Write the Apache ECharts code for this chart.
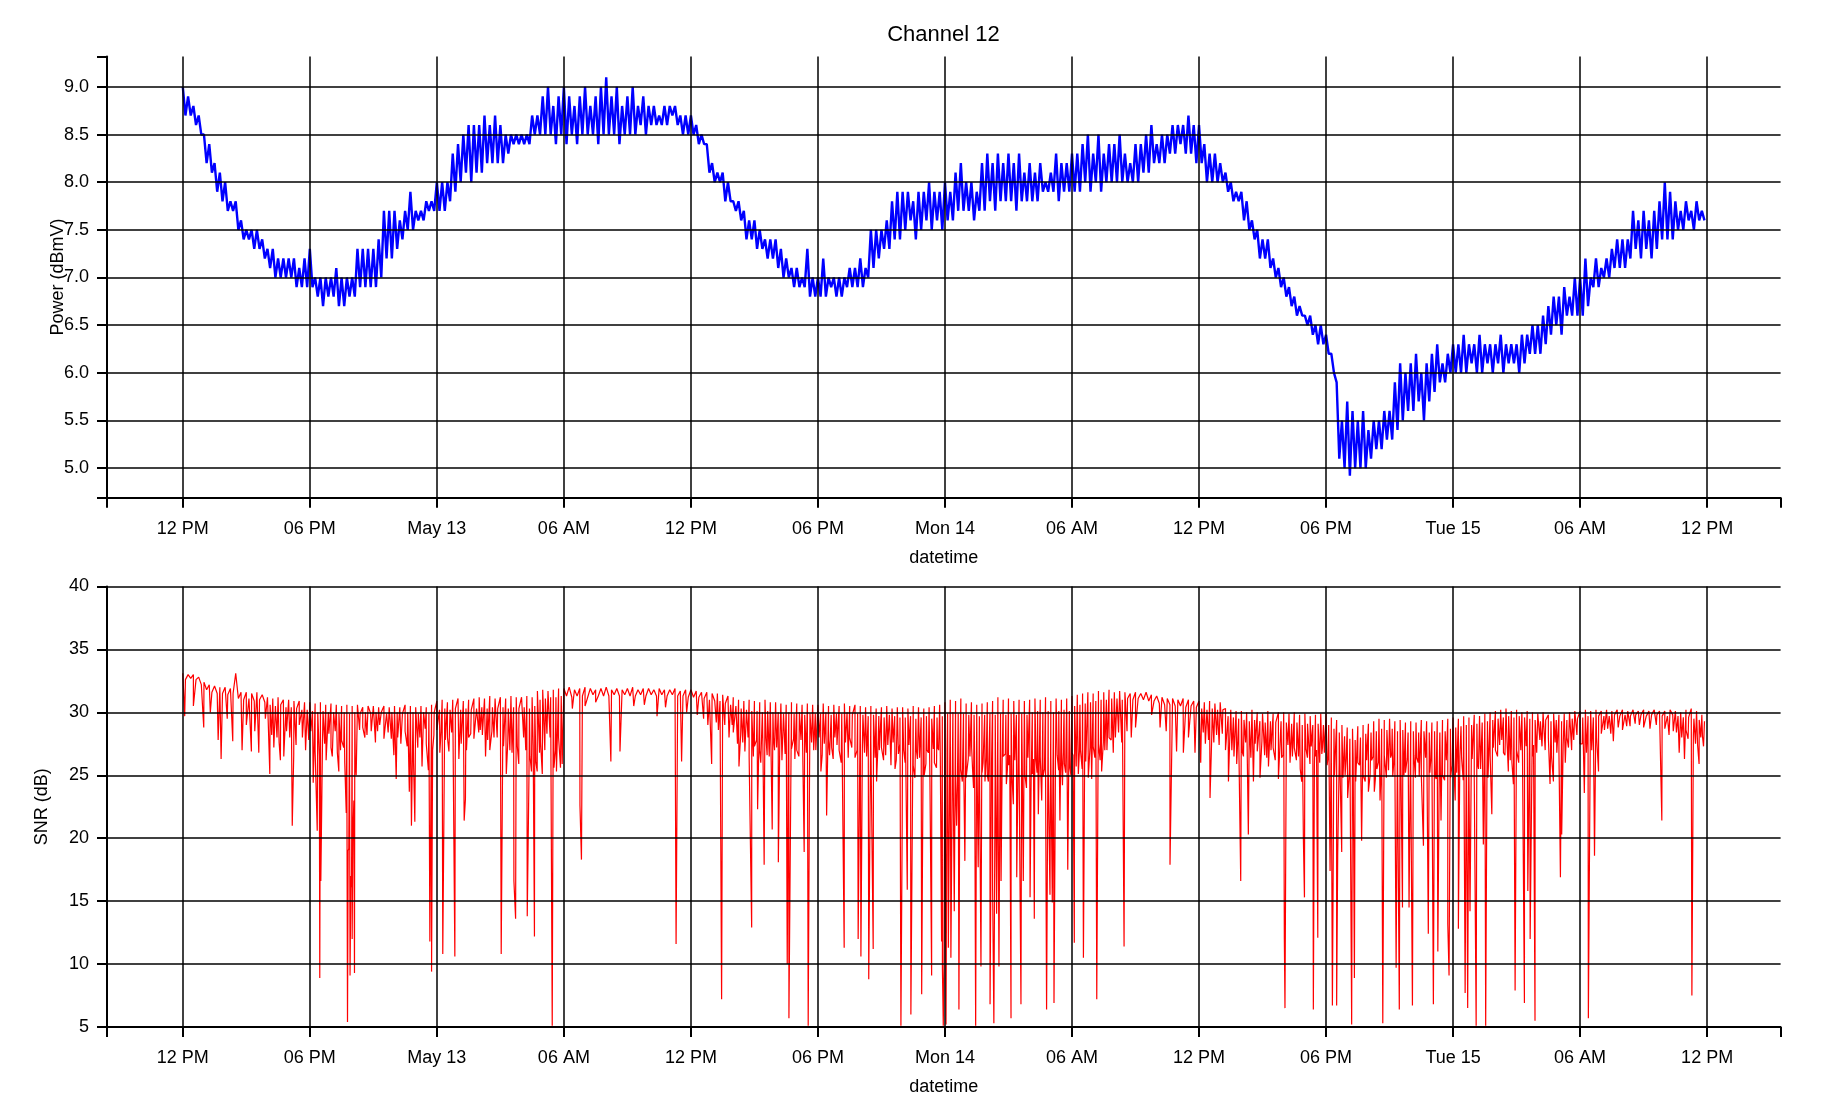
<!DOCTYPE html>
<html><head><meta charset="utf-8">
<script src="https://cdn.jsdelivr.net/npm/echarts@6/dist/echarts.min.js"></script>
<style>html,body{margin:0;padding:0;background:#fff}#c{width:1830px;height:1116px}</style>
</head><body><div id="c"></div>
<script>
// time in hours since 12 PM, May 12
const BIN_HOURS = 0.25;
const xMin = -3.58, xMax = 75.47;
const tickHours = [0, 6, 12, 18, 24, 30, 36, 42, 48, 54, 60, 66, 72];
const tickLabels = ['12 PM', '06 PM', 'May 13', '06 AM', '12 PM', '06 PM', 'Mon 14', '06 AM', '12 PM', '06 PM', 'Tue 15', '06 AM', '12 PM'];
const powerMin = 4.69, powerMax = 9.32;
const powerTicks = [5.0, 5.5, 6.0, 6.5, 7.0, 7.5, 8.0, 8.5, 9.0];
const snrTicks = [5, 10, 15, 20, 25, 30, 35, 40];

// Power (dBmV): upper / lower value in each 15-minute bin
const powerHi = [
  9.0, 8.9, 8.8, 8.7, 8.5, 8.4, 8.2, 8.1,
  8.0, 7.8, 7.8, 7.6, 7.5, 7.5, 7.5, 7.4,
  7.3, 7.3, 7.2, 7.2, 7.2, 7.2, 7.1, 7.2,
  7.3, 7.0, 7.0, 7.0, 7.0, 7.1, 7.0, 7.0,
  7.0, 7.3, 7.3, 7.3, 7.3, 7.4, 7.7, 7.7,
  7.7, 7.6, 7.7, 7.9, 7.7, 7.7, 7.8, 7.8,
  8.0, 8.0, 8.0, 8.3, 8.4, 8.5, 8.6, 8.6,
  8.6, 8.7, 8.6, 8.7, 8.6, 8.5, 8.5, 8.5,
  8.5, 8.5, 8.7, 8.7, 8.9, 9.0, 8.8, 8.9,
  9.0, 8.9, 8.8, 8.9, 9.0, 8.8, 8.9, 9.0,
  9.1, 8.9, 9.0, 8.8, 8.9, 9.0, 8.8, 8.9,
  8.8, 8.8, 8.7, 8.8, 8.8, 8.8, 8.7, 8.7,
  8.7, 8.6, 8.5, 8.4, 8.2, 8.1, 8.1, 8.0,
  7.8, 7.8, 7.7, 7.6, 7.6, 7.5, 7.4, 7.4,
  7.4, 7.3, 7.2, 7.1, 7.1, 7.0, 7.3, 7.0,
  7.0, 7.2, 7.0, 7.0, 7.0, 7.0, 7.1, 7.1,
  7.2, 7.1, 7.5, 7.5, 7.5, 7.6, 7.8, 7.9,
  7.9, 7.9, 7.8, 7.9, 7.9, 8.0, 7.9, 7.9,
  8.0, 7.9, 8.1, 8.2, 8.0, 8.0, 7.9, 8.2,
  8.3, 8.2, 8.3, 8.2, 8.3, 8.2, 8.3, 8.1,
  8.2, 8.1, 8.2, 8.0, 8.1, 8.3, 8.2, 8.2,
  8.3, 8.3, 8.4, 8.5, 8.3, 8.5, 8.3, 8.4,
  8.4, 8.5, 8.3, 8.2, 8.4, 8.4, 8.5, 8.6,
  8.4, 8.5, 8.5, 8.6, 8.6, 8.6, 8.7, 8.6,
  8.6, 8.4, 8.3, 8.3, 8.2, 8.1, 8.0, 7.9,
  7.9, 7.8, 7.6, 7.5, 7.4, 7.4, 7.2, 7.1,
  7.0, 6.9, 6.8, 6.7, 6.6, 6.6, 6.5, 6.5,
  6.4, 6.2, 5.9, 5.5, 5.7, 5.6, 5.5, 5.6,
  5.4, 5.5, 5.5, 5.6, 5.6, 5.9, 6.1, 6.0,
  6.1, 6.2, 6.0, 6.1, 6.2, 6.3, 6.1, 6.2,
  6.3, 6.3, 6.4, 6.3, 6.3, 6.4, 6.3, 6.3,
  6.3, 6.4, 6.3, 6.3, 6.3, 6.4, 6.4, 6.5,
  6.5, 6.6, 6.7, 6.8, 6.8, 6.9, 6.8, 7.0,
  7.0, 7.2, 7.0, 7.2, 7.1, 7.2, 7.3, 7.4,
  7.4, 7.4, 7.7, 7.6, 7.7, 7.6, 7.7, 7.8,
  8.0, 7.9, 7.8, 7.7, 7.8, 7.7, 7.8, 7.7
];
const powerLo = [
  8.7, 8.7, 8.6, 8.5, 8.2, 8.1, 7.9, 7.8,
  7.7, 7.7, 7.5, 7.4, 7.4, 7.3, 7.3, 7.2,
  7.1, 7.0, 7.0, 7.0, 7.0, 6.9, 6.9, 6.9,
  6.9, 6.8, 6.7, 6.8, 6.8, 6.7, 6.7, 6.8,
  6.8, 6.9, 6.9, 6.9, 6.9, 7.0, 7.2, 7.2,
  7.3, 7.4, 7.5, 7.5, 7.6, 7.6, 7.7, 7.7,
  7.7, 7.7, 7.8, 7.9, 8.0, 8.1, 8.0, 8.1,
  8.1, 8.2, 8.2, 8.2, 8.2, 8.3, 8.4, 8.4,
  8.4, 8.4, 8.5, 8.5, 8.5, 8.5, 8.4, 8.5,
  8.4, 8.5, 8.4, 8.5, 8.5, 8.5, 8.4, 8.5,
  8.5, 8.5, 8.4, 8.5, 8.5, 8.5, 8.6, 8.5,
  8.6, 8.6, 8.6, 8.6, 8.7, 8.6, 8.5, 8.5,
  8.5, 8.4, 8.4, 8.1, 8.0, 8.0, 7.8, 7.8,
  7.7, 7.6, 7.4, 7.4, 7.3, 7.3, 7.2, 7.2,
  7.1, 7.0, 7.0, 6.9, 6.9, 6.9, 6.8, 6.8,
  6.8, 6.8, 6.9, 6.8, 6.8, 6.9, 6.9, 6.9,
  6.9, 7.0, 7.1, 7.2, 7.3, 7.3, 7.4, 7.4,
  7.5, 7.6, 7.4, 7.5, 7.6, 7.5, 7.6, 7.5,
  7.6, 7.6, 7.7, 7.7, 7.7, 7.6, 7.7, 7.7,
  7.8, 7.7, 7.8, 7.8, 7.8, 7.7, 7.8, 7.8,
  7.8, 7.8, 7.9, 7.9, 7.9, 7.8, 7.9, 7.9,
  7.9, 7.9, 8.0, 7.9, 8.0, 7.9, 8.0, 8.0,
  8.0, 8.0, 8.0, 8.0, 8.0, 8.1, 8.1, 8.2,
  8.2, 8.2, 8.3, 8.3, 8.4, 8.3, 8.3, 8.2,
  8.2, 8.0, 8.0, 8.0, 8.0, 7.9, 7.8, 7.8,
  7.6, 7.5, 7.4, 7.2, 7.2, 7.1, 7.0, 6.9,
  6.8, 6.7, 6.6, 6.6, 6.5, 6.4, 6.3, 6.3,
  6.2, 6.0, 5.1, 5.0, 4.92, 5.0, 5.0, 5.0,
  5.1, 5.2, 5.2, 5.3, 5.3, 5.4, 5.5, 5.6,
  5.6, 5.7, 5.5, 5.7, 5.8, 5.9, 5.9, 6.0,
  6.0, 6.0, 6.0, 6.1, 6.0, 6.0, 6.1, 6.0,
  6.1, 6.0, 6.1, 6.1, 6.0, 6.1, 6.2, 6.2,
  6.2, 6.3, 6.4, 6.5, 6.4, 6.6, 6.6, 6.6,
  6.6, 6.7, 6.9, 6.9, 7.0, 7.0, 7.1, 7.1,
  7.1, 7.2, 7.3, 7.2, 7.3, 7.2, 7.3, 7.4,
  7.4, 7.4, 7.5, 7.5, 7.6, 7.5, 7.6, 7.6
];

// SNR (dB): upper / lower edge of the baseline band in each 15-minute bin
const snrHi = [
  33.1, 33.0, 33.0, 32.8, 32.4, 32.2, 32.1, 32.0,
  32.0, 31.9, 33.1, 31.6, 31.6, 31.5, 31.6, 31.4,
  31.2, 31.1, 31.2, 31.0, 31.0, 30.9, 30.9, 30.8,
  30.8, 30.7, 30.8, 30.6, 30.7, 30.6, 30.5, 30.6,
  30.5, 30.6, 30.4, 30.5, 30.5, 30.4, 30.5, 30.4,
  30.5, 30.4, 30.6, 30.5, 30.4, 30.5, 30.4, 30.6,
  30.9, 31.0, 30.8, 31.0, 31.1, 30.9, 31.0, 31.1,
  31.2, 31.1, 31.3, 31.1, 31.2, 31.1, 31.3, 31.2,
  31.2, 31.3, 31.2, 31.7, 31.8, 31.7, 31.8, 31.9,
  31.9, 32.0, 31.8, 31.9, 32.0, 31.9, 31.8, 31.9,
  32.0, 31.8, 31.9, 31.8, 31.9, 32.0, 31.8, 31.9,
  31.9, 31.8, 31.9, 31.8, 31.8, 31.9, 31.7, 31.8,
  31.8, 31.7, 31.6, 31.6, 31.5, 31.5, 31.4, 31.3,
  31.2, 31.0, 30.9, 31.0, 30.9, 30.8, 31.0, 30.8,
  30.8, 30.7, 30.6, 30.8, 30.7, 30.6, 30.7, 30.6,
  30.6, 30.7, 30.5, 30.6, 30.5, 30.7, 30.5, 30.6,
  30.5, 30.4, 30.5, 30.3, 30.4, 30.5, 30.3, 30.4,
  30.4, 30.3, 30.5, 30.4, 30.3, 30.4, 30.5, 30.6,
  30.8, 31.0, 30.9, 31.1, 30.7, 30.8, 30.6, 30.7,
  30.8, 30.9, 31.2, 31.0, 31.1, 30.9, 31.0, 30.9,
  31.0, 31.1, 31.0, 31.2, 30.9, 31.1, 31.0, 31.1,
  31.3, 31.4, 31.5, 31.6, 31.5, 31.7, 31.6, 31.8,
  31.6, 31.7, 31.6, 31.5, 31.6, 31.5, 31.6, 31.4,
  31.3, 31.2, 31.1, 31.1, 31.0, 31.1, 31.0, 30.9,
  30.9, 30.8, 30.9, 30.7, 30.8, 30.3, 30.2, 30.1,
  30.1, 30.0, 30.2, 30.0, 29.9, 30.1, 29.9, 30.0,
  30.0, 29.9, 30.0, 29.8, 29.9, 29.7, 29.8, 29.9,
  29.9, 29.6, 29.4, 29.0, 28.8, 28.7, 28.9, 29.0,
  29.1, 29.3, 29.5, 29.4, 29.5, 29.3, 29.4, 29.2,
  29.3, 29.2, 29.4, 29.3, 29.2, 29.3, 29.4, 29.5,
  29.6, 29.5, 29.7, 29.6, 29.8, 29.7, 29.9, 30.0,
  30.1, 30.2, 30.3, 30.1, 30.2, 30.0, 30.1, 30.0,
  29.9, 30.0, 29.8, 29.9, 29.8, 29.9, 30.0, 30.1,
  30.1, 30.2, 30.1, 30.2, 30.1, 30.2, 30.1, 30.2,
  30.2, 30.1, 30.2, 30.1, 30.2, 30.1, 30.2, 30.1,
  30.1, 30.2, 30.1, 30.0, 30.2, 30.3, 30.1, 29.8
];
const snrLo = [
  32.6, 32.7, 32.6, 32.2, 31.8, 31.6, 31.5, 31.5,
  31.4, 31.5, 31.1, 31.0, 31.1, 30.9, 31.0, 30.8,
  30.6, 30.5, 30.6, 30.4, 30.4, 30.3, 30.2, 30.2,
  30.1, 30.0, 30.1, 30.0, 30.0, 29.9, 30.0, 29.9,
  30.0, 29.9, 30.0, 29.9, 30.0, 30.0, 29.9, 30.0,
  30.0, 29.9, 30.0, 30.0, 29.9, 30.0, 29.9, 30.0,
  30.2, 30.3, 30.2, 30.3, 30.2, 30.3, 30.2, 30.3,
  30.4, 30.3, 30.4, 30.3, 30.4, 30.3, 30.4, 30.3,
  30.4, 30.3, 30.5, 31.0, 31.1, 31.2, 31.2, 31.3,
  31.3, 31.2, 31.3, 31.3, 31.2, 31.4, 31.3, 31.3,
  31.3, 31.4, 31.3, 31.4, 31.3, 31.3, 31.4, 31.3,
  31.4, 31.3, 31.4, 31.3, 31.4, 31.3, 31.3, 31.2,
  31.2, 31.2, 31.1, 31.0, 30.9, 30.9, 30.7, 30.6,
  30.5, 30.3, 30.2, 30.1, 30.1, 30.0, 30.1, 30.0,
  30.0, 29.9, 30.0, 29.9, 30.0, 29.8, 29.9, 29.9,
  29.9, 30.0, 29.8, 29.9, 29.9, 30.0, 29.8, 29.9,
  29.8, 29.7, 29.8, 29.7, 29.6, 29.8, 29.7, 29.6,
  29.6, 29.7, 29.5, 29.6, 29.7, 29.5, 29.6, 29.7,
  29.9, 30.0, 29.9, 29.9, 29.8, 29.8, 29.7, 29.8,
  29.9, 29.8, 29.9, 29.8, 29.9, 29.8, 29.9, 29.8,
  30.0, 30.1, 30.0, 30.1, 30.0, 30.1, 30.2, 30.1,
  30.5, 30.6, 30.7, 30.8, 30.9, 31.0, 31.0, 31.1,
  31.1, 31.0, 31.1, 31.0, 31.1, 31.0, 30.9, 30.9,
  30.7, 30.6, 30.6, 30.5, 30.5, 30.4, 30.5, 30.4,
  30.3, 30.2, 30.3, 30.2, 30.2, 29.7, 29.6, 29.5,
  29.4, 29.3, 29.4, 29.3, 29.2, 29.3, 29.2, 29.3,
  29.2, 29.1, 29.2, 29.0, 29.1, 29.0, 29.1, 29.0,
  29.0, 28.7, 28.4, 28.1, 27.9, 27.8, 28.0, 28.3,
  28.4, 28.5, 28.7, 28.6, 28.7, 28.5, 28.6, 28.4,
  28.5, 28.4, 28.5, 28.4, 28.5, 28.4, 28.5, 28.7,
  28.8, 28.9, 29.0, 29.0, 29.1, 29.2, 29.3, 29.4,
  29.5, 29.6, 29.7, 29.6, 29.7, 29.6, 29.5, 29.4,
  29.3, 29.4, 29.3, 29.4, 29.3, 29.4, 29.5, 29.5,
  29.6, 29.7, 29.6, 29.7, 29.7, 29.7, 29.8, 29.7,
  29.8, 29.7, 29.8, 29.8, 29.7, 29.8, 29.8, 29.7,
  29.7, 29.8, 29.7, 29.6, 29.6, 29.5, 29.4, 29.3
];

// SNR dropouts: [hours, dB]
const snrDips = [
  [0.09,29.7],[0.5,30.5],[0.99,28.8],[1.3,30.0],[1.67,27.8],[1.81,26.3],[2.1,29.5],[2.36,27.7],[2.8,27.0],[3.0,29.0],
  [3.24,26.9],[3.4,28.5],[3.59,26.8],[3.9,29.5],[4.11,25.1],[4.3,27.2],[4.45,28.0],[4.61,26.2],[4.77,26.5],[4.9,28.5],
  [5.17,21.0],[5.24,26.6],[5.5,29.0],[5.65,28.0],[5.8,27.0],[6.05,28.5],[6.16,24.4],[6.35,20.6],[6.47,8.9],[6.52,16.6],
  [6.6,27.8],[6.77,26.2],[6.9,28.3],[7.06,26.5],[7.2,28.5],[7.37,25.3],[7.5,27.8],[7.6,27.2],[7.72,22.0],[7.78,5.4],
  [7.81,19.0],[7.84,19.2],[7.9,9.1],[7.94,17.0],[7.97,16.1],[8.0,12.0],[8.03,20.0],[8.11,9.3],[8.19,25.0],[8.35,28.6],
  [8.5,28.8],[8.7,28.2],[8.9,28.5],[9.1,27.6],[9.3,29.0],[9.5,27.9],[9.7,28.4],[9.97,26.6],[10.08,24.7],[10.3,27.5],
  [10.5,28.5],[10.7,23.7],[10.8,21.0],[10.96,21.3],[11.1,27.2],[11.3,25.7],[11.45,28.7],[11.6,25.4],[11.67,11.8],[11.75,9.4],
  [11.86,28.2],[12.0,28.6],[12.14,26.8],[12.28,10.8],[12.4,27.8],[12.57,26.9],[12.7,28.4],[12.85,10.6],[13.04,26.3],[13.15,27.5],
  [13.29,21.4],[13.35,23.1],[13.5,28.0],[13.75,27.9],[13.98,28.4],[14.15,28.2],[14.3,26.5],[14.5,27.0],[14.7,28.0],[14.85,28.0],
  [15.04,10.8],[15.15,27.3],[15.28,25.1],[15.45,27.0],[15.64,16.6],[15.72,13.6],[15.87,25.9],[16.1,28.0],[16.27,13.8],[16.35,24.8],
  [16.47,25.3],[16.61,12.2],[16.74,25.3],[16.85,26.8],[16.98,25.1],[17.2,28.3],[17.45,5.1],[17.53,25.6],[17.65,25.3],[17.75,28.0],
  [17.84,25.6],[17.92,25.9],[18.4,30.3],[18.76,22.6],[18.83,18.3],[19.0,30.5],[19.5,30.8],[20.22,26.1],[20.65,26.9],[21.3,30.5],
  [21.8,30.6],[22.4,29.7],[22.8,30.4],[23.3,11.6],[23.56,26.1],[23.8,30.0],[24.3,29.8],[24.6,29.5],[24.98,25.9],[25.2,29.2],
  [25.45,7.2],[25.6,29.0],[25.8,28.0],[26.0,28.4],[26.27,25.7],[26.45,27.6],[26.6,27.0],[26.75,26.5],[26.87,12.9],[27.0,27.3],
  [27.15,22.3],[27.3,26.0],[27.46,17.9],[27.6,26.6],[27.84,20.7],[27.95,27.0],[28.13,18.1],[28.3,26.2],[28.55,10.0],[28.63,5.7],
  [28.75,27.1],[28.91,26.3],[29.1,26.5],[29.35,18.9],[29.54,5.1],[29.6,24.3],[29.8,27.0],[30.14,25.3],[30.3,27.5],[30.41,21.8],
  [30.55,26.6],[30.72,26.3],[30.9,27.4],[31.1,26.0],[31.24,11.3],[31.43,26.4],[31.6,27.2],[31.75,26.4],[31.9,12.0],[32.03,10.6],
  [32.2,26.8],[32.4,8.8],[32.61,11.2],[32.77,24.5],[32.9,27.0],[33.1,26.2],[33.3,27.4],[33.45,25.8],[33.64,25.5],[33.8,26.7],
  [33.92,5.1],[33.98,21.1],[34.05,27.0],[34.22,15.9],[34.39,6.0],[34.58,24.8],[34.7,26.3],[34.9,7.6],[35.02,25.0],[35.15,27.0],
  [35.29,24.7],[35.37,9.1],[35.5,26.0],[35.65,27.2],[35.7,27.0],[35.84,11.8],[35.88,9.6],[35.92,5.1],[35.95,9.7],[36.05,5.2],
  [36.16,11.3],[36.28,10.5],[36.35,26.0],[36.44,14.2],[36.55,21.0],[36.66,6.4],[36.75,25.5],[36.82,24.5],[36.94,18.2],[37.1,26.3],
  [37.26,27.2],[37.35,24.0],[37.45,5.1],[37.57,17.7],[37.7,9.8],[37.8,26.0],[37.89,24.5],[38.0,25.0],[38.13,6.8],[38.25,16.1],
  [38.31,5.3],[38.44,14.0],[38.55,9.8],[38.65,16.6],[38.75,26.5],[38.9,24.3],[39.0,25.8],[39.12,5.7],[39.23,22.7],[39.39,16.9],
  [39.5,26.0],[39.59,6.8],[39.7,16.6],[39.85,24.0],[40.02,15.3],[40.13,25.1],[40.22,13.6],[40.3,26.2],[40.41,21.9],[40.57,23.0],
  [40.7,25.5],[40.8,6.4],[40.96,15.5],[41.07,14.9],[41.15,6.9],[41.3,26.6],[41.43,21.4],[41.55,24.2],[41.64,25.9],[41.8,17.5],
  [41.9,25.6],[42.0,26.8],[42.11,11.7],[42.3,25.1],[42.4,27.0],[42.54,10.5],[42.65,26.1],[42.77,24.8],[42.93,24.7],[43.0,27.3],
  [43.17,7.2],[43.4,25.3],[43.55,27.0],[43.75,28.0],[43.95,26.8],[44.2,28.4],[44.46,11.4],[45.0,28.8],[45.76,29.8],[46.16,28.8],
  [46.45,28.5],[46.63,17.9],[46.94,26.9],[47.26,26.8],[47.5,28.0],[47.81,26.8],[48.08,26.0],[48.3,27.5],[48.52,23.2],[48.7,27.6],
  [48.83,28.2],[49.1,28.3],[49.39,24.5],[49.55,27.0],[49.78,25.9],[49.97,16.6],[50.1,26.5],[50.33,20.3],[50.57,24.5],[50.75,26.9],
  [50.88,24.8],[51.1,26.6],[51.28,25.7],[51.5,27.2],[51.75,24.7],[51.9,26.4],[52.03,12.0],[52.06,6.5],[52.2,27.4],[52.41,26.5],
  [52.6,26.2],[52.85,24.5],[52.93,19.9],[52.98,15.3],[53.05,27.1],[53.24,25.9],[53.4,6.4],[53.5,26.5],[53.61,12.1],[53.8,26.7],
  [53.83,27.2],[54.1,26.5],[54.19,17.4],[54.3,6.7],[54.5,6.7],[54.55,18.7],[54.74,18.9],[54.9,25.0],[55.02,23.2],[55.21,5.2],
  [55.34,8.9],[55.5,26.0],[55.68,19.8],[55.85,24.5],[56.0,23.7],[56.15,26.2],[56.28,23.7],[56.4,25.5],[56.55,23.0],[56.68,5.3],
  [56.85,24.8],[57.1,26.7],[57.2,26.0],[57.31,9.7],[57.46,6.4],[57.61,14.5],[57.75,25.2],[57.92,14.5],[58.08,6.7],[58.28,26.4],
  [58.4,24.9],[58.6,19.4],[58.83,12.4],[58.95,26.3],[59.07,6.8],[59.15,25.0],[59.28,11.0],[59.43,21.4],[59.6,24.6],[59.75,13.2],
  [59.81,9.1],[59.95,25.8],[60.1,23.0],[60.25,12.8],[60.4,26.4],[60.57,7.7],[60.69,6.5],[60.8,14.2],[61.09,5.1],[61.2,25.5],
  [61.43,19.5],[61.54,5.1],[61.65,24.8],[61.83,21.9],[62.0,27.0],[62.3,27.8],[62.45,26.6],[62.61,25.3],[62.7,26.2],[62.85,24.3],
  [62.93,7.9],[63.1,26.0],[63.2,27.0],[63.37,6.9],[63.53,15.8],[63.64,12.0],[63.75,26.5],[63.87,5.5],[64.2,27.3],[64.58,24.3],
  [64.74,24.5],[64.9,26.8],[65.07,16.9],[65.13,20.3],[65.3,26.0],[65.45,27.2],[65.7,27.8],[66.0,27.5],[66.2,23.6],[66.39,5.7],
  [66.55,27.0],[66.68,18.6],[66.87,25.3],[67.0,28.3],[67.3,28.7],[67.57,27.7],[68.0,28.6],[68.36,28.9],[68.8,29.0],[69.3,28.7],
  [69.86,21.4],[70.2,28.2],[70.4,28.5],[70.68,26.8],[70.93,26.3],[71.1,27.9],[71.28,7.5],[71.45,27.5],[71.62,25.9],[71.7,28.0],
  [71.83,27.3]
];
// shallower dropouts that thicken the band below 30 dB: [hours, dB]
const snrSmallDips = [
  [4.2,28.2],[4.55,27.6],[5.05,28.0],[5.35,27.4],[5.95,27.8],[6.25,27.0],[6.45,26.5],[6.7,27.5],[7.0,27.2],[7.3,26.8],
  [7.45,27.0],[7.65,26.0],[7.75,25.0],[7.88,24.0],[8.08,23.0],[8.15,26.0],[8.6,28.0],[9.2,28.5],[9.85,27.9],[10.15,28.0],
  [10.6,27.3],[10.9,26.0],[11.2,28.0],[11.5,27.5],[11.8,27.0],[12.2,28.5],[12.5,28.0],[13.4,27.0],[13.6,28.3],[14.05,28.6],
  [14.4,27.8],[14.6,28.5],[15.35,27.6],[15.55,26.8],[15.8,27.3],[16.2,27.0],[16.4,26.5],[16.55,27.4],[16.68,26.0],[16.9,27.6],
  [17.1,27.0],[17.35,28.0],[17.6,27.0],[17.85,27.4],[24.8,29.0],[25.3,28.6],[25.95,29.0],[26.2,27.5],[26.35,28.2],[26.55,26.9],
  [26.7,28.0],[26.95,26.5],[27.1,27.8],[27.25,27.0],[27.4,27.5],[27.55,27.9],[27.7,26.5],[27.9,28.0],[28.05,27.2],[28.2,27.8],
  [28.45,26.7],[28.6,27.3],[28.85,27.9],[29.0,27.0],[29.2,27.8],[29.45,26.8],[29.7,27.6],[29.9,27.0],[30.05,28.0],[30.2,26.6],
  [30.5,27.8],[30.65,27.2],[30.8,28.0],[31.0,27.0],[31.3,27.6],[31.5,28.0],[31.85,27.0],[32.1,27.4],[32.3,26.5],[32.5,27.8],
  [32.7,26.4],[32.85,28.0],[33.0,27.2],[33.2,26.6],[33.55,27.6],[33.7,26.2],[33.87,27.5],[34.12,26.0],[34.3,27.4],[34.5,25.8],
  [34.65,27.0],[34.8,26.4],[34.97,27.3],[35.1,25.9],[35.22,26.8],[35.45,27.1],[35.6,25.6],[35.78,26.5],[36.1,27.0],[36.22,25.0],
  [36.38,26.8],[36.5,24.6],[36.6,26.2],[36.7,25.3],[36.88,26.6],[37.0,24.8],[37.18,26.5],[37.3,25.6],[37.4,26.8],[37.52,24.9],
  [37.63,26.0],[37.75,25.2],[37.95,26.4],[38.05,24.5],[38.2,26.0],[38.37,25.0],[38.5,26.5],[38.6,24.7],[38.7,25.8],[38.85,26.7],
  [38.95,25.5],[39.06,26.6],[39.17,24.8],[39.3,26.2],[39.45,25.4],[39.65,26.0],[39.78,25.0],[39.92,26.4],[40.07,24.6],[40.18,26.3],
  [40.35,25.2],[40.5,26.5],[40.63,24.9],[40.75,26.0],[40.88,25.3],[41.0,26.7],[41.1,25.0],[41.22,26.1],[41.37,25.4],[41.5,26.8],
  [41.7,25.2],[41.85,26.4],[41.95,25.0],[42.05,26.6],[42.2,25.7],[42.35,26.9],[42.48,25.5],[42.6,27.0],[42.72,26.0],[42.85,27.2],
  [43.08,26.4],[43.25,27.5],[43.33,26.2],[43.48,27.6],[43.65,27.0],[43.85,27.8],[44.05,28.0],[44.35,27.6],[44.6,28.5],[44.8,28.0],
  [48.2,28.4],[48.45,27.8],[48.6,28.0],[48.95,27.4],[49.25,27.0],[49.45,27.8],[49.65,26.5],[49.88,27.4],[50.05,26.8],[50.2,27.6],
  [50.45,26.4],[50.65,27.5],[50.82,26.8],[50.97,27.7],[51.2,26.4],[51.4,27.0],[51.6,26.2],[51.82,27.3],[51.97,26.6],[52.12,27.0],
  [52.3,26.0],[52.5,27.2],[52.7,26.5],[52.78,25.5],[53.12,26.4],[53.3,27.3],[53.45,25.8],[53.55,27.0],[53.7,26.0],[53.92,26.8],
  [54.05,25.8],[54.25,26.5],[54.4,25.0],[54.62,26.0],[54.8,24.8],[54.95,26.3],[55.1,25.2],[55.28,26.4],[55.4,24.5],[55.58,25.8],
  [55.75,25.0],[55.92,26.2],[56.08,25.0],[56.22,26.5],[56.33,24.7],[56.47,26.0],[56.6,25.2],[56.75,26.6],[56.95,25.4],[57.05,26.4],
  [57.15,24.9],[57.25,26.2],[57.38,25.3],[57.53,26.5],[57.68,25.0],[57.83,26.3],[58.0,25.2],[58.15,26.6],[58.22,24.8],[58.35,26.0],
  [58.5,25.0],[58.7,26.4],[58.9,25.2],[59.0,26.5],[59.2,24.7],[59.35,26.0],[59.5,25.0],[59.68,26.2],[59.88,24.8],[60.02,26.4],
  [60.17,25.2],[60.32,26.5],[60.48,24.6],[60.62,26.0],[60.75,25.0],[60.9,26.3],[61.0,24.8],[61.15,26.0],[61.3,25.5],[61.48,26.8],
  [61.6,25.0],[61.75,26.6],[61.9,27.2],[62.1,26.5],[62.2,27.4],[62.38,26.8],[62.55,27.6],[62.78,26.0],[63.0,27.0],[63.28,26.2],
  [63.45,27.3],[63.6,26.5],[63.8,27.4],[63.95,26.8],[64.1,27.8],[64.35,27.0],[64.5,28.0],[64.65,26.5],[64.82,27.6],[65.0,26.8],
  [65.2,27.4],[65.38,28.0],[65.6,27.0],[65.85,28.2],[66.1,27.5],[66.3,26.8],[66.48,27.8],[66.62,26.9],[66.78,28.0],[67.15,28.6],
  [67.45,28.3],[67.8,28.8],[68.2,28.9],[68.6,29.1],[69.0,28.8],[69.6,29.0],[70.0,28.7],[70.55,28.4],[70.8,28.0],[71.0,28.6],
  [71.35,28.2],[71.55,27.4],[71.78,28.1]
];

const FONT = '"Liberation Sans", Arial, Helvetica, sans-serif';

function binnedSeries(hi, lo) {
  const pts = [];
  for (let i = 0; i < hi.length; i++) {
    const t = i * BIN_HOURS;
    pts.push([t, hi[i]]);
    pts.push([t + BIN_HOURS / 2, lo[i]]);
  }
  return pts;
}
const powerData = binnedSeries(powerHi, powerLo);
const snrData = binnedSeries(snrHi, snrLo).concat(snrDips, snrSmallDips).sort((a, b) => a[0] - b[0]);

function tickLabel(v) {
  for (let i = 0; i < tickHours.length; i++) if (Math.abs(tickHours[i] - v) < 1e-6) return tickLabels[i];
  return '';
}

const axisLineStyle = { color: '#000', width: 2 };
const labelStyle = { color: '#000', fontSize: 18, fontFamily: FONT };
const nameStyle = { color: '#000', fontSize: 18, fontFamily: FONT };

function makeX(gridIndex) {
  return {
    type: 'value', gridIndex, min: xMin, max: xMax,
    name: 'datetime', nameLocation: 'middle', nameGap: 51, nameTextStyle: nameStyle, nameMoveOverlap: false,
    axisLine: { show: true, onZero: false, lineStyle: axisLineStyle },
    axisTick: { show: true, length: 10, lineStyle: axisLineStyle, customValues: [xMin].concat(tickHours, [xMax]) },
    axisLabel: { show: true, margin: 22, ...labelStyle, customValues: tickHours, formatter: tickLabel },
    splitLine: { show: false }
  };
}

function gridLines(yValues) {
  return {
    silent: true, symbol: ['none', 'none'], animation: false,
    label: { show: false }, emphasis: { disabled: true },
    lineStyle: { color: '#000', width: 1.5, type: 'solid' },
    data: tickHours.map(h => ({ xAxis: h })).concat(yValues.map(v => ({ yAxis: v })))
  };
}

const chart = echarts.init(document.getElementById('c'), null, { renderer: 'canvas' });
chart.setOption({
  animation: false,
  backgroundColor: '#fff',
  title: {
    text: 'Channel 12', left: 943.5, top: 23.5, padding: 0, textAlign: 'center',
    textStyle: { color: '#000', fontSize: 22, fontWeight: 'normal', fontFamily: FONT }
  },
  grid: [
    { left: 107, right: 49.4, top: 56.4, height: 441.3, containLabel: false, outerBoundsMode: 'none' },
    { left: 107, right: 49.4, top: 586.5, height: 440.5, containLabel: false, outerBoundsMode: 'none' }
  ],
  xAxis: [makeX(0), makeX(1)],
  yAxis: [
    {
      type: 'value', gridIndex: 0, min: powerMin, max: powerMax,
      name: 'Power (dBmV)', nameLocation: 'middle', nameRotate: 90, nameGap: 40, nameTextStyle: nameStyle, nameMoveOverlap: false,
      axisLine: { show: true, onZero: false, lineStyle: axisLineStyle },
      axisTick: { show: true, length: 10, lineStyle: axisLineStyle, customValues: [powerMin].concat(powerTicks, [powerMax]) },
      axisLabel: { show: true, margin: 18, ...labelStyle, customValues: powerTicks, formatter: v => v.toFixed(1) },
      splitLine: { show: false }
    },
    {
      type: 'value', gridIndex: 1, min: snrTicks[0], max: snrTicks[snrTicks.length - 1], interval: 5,
      name: 'SNR (dB)', nameLocation: 'middle', nameRotate: 90, nameGap: 56, nameTextStyle: nameStyle, nameMoveOverlap: false,
      axisLine: { show: true, onZero: false, lineStyle: axisLineStyle },
      axisTick: { show: true, length: 10, lineStyle: axisLineStyle },
      axisLabel: { show: true, margin: 18, ...labelStyle },
      splitLine: { show: false }
    }
  ],
  series: [
    {
      type: 'line', xAxisIndex: 0, yAxisIndex: 0, data: powerData,
      showSymbol: false, symbol: 'none', sampling: null, silent: true,
      lineStyle: { color: '#0000ff', width: 2.4 },
      markLine: gridLines(powerTicks)
    },
    {
      type: 'line', xAxisIndex: 1, yAxisIndex: 1, data: snrData,
      showSymbol: false, symbol: 'none', sampling: null, silent: true,
      lineStyle: { color: '#ff0000', width: 1.2 },
      markLine: gridLines(snrTicks)
    }
  ]
});
</script></body></html>
